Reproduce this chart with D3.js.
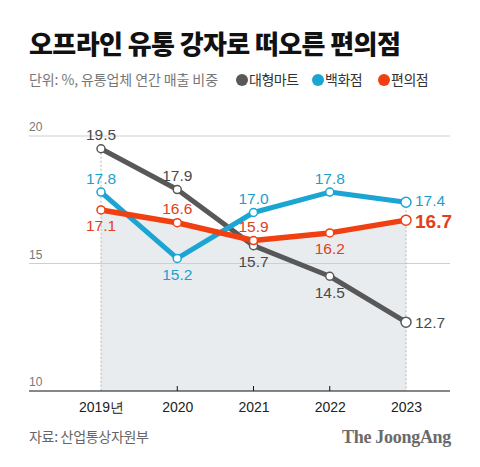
<!DOCTYPE html>
<html><head><meta charset="utf-8">
<script src="https://cdn.jsdelivr.net/npm/d3@7"></script>
<style>
html,body{margin:0;padding:0;background:#fff;}
svg{display:block;}
</style></head>
<body>
<svg id="c" width="480" height="467"></svg>
<script>
const years = ["2019년","2020","2021","2022","2023"];
const mart = [19.5,17.9,15.7,14.5,12.7];
const dept = [17.8,15.2,17.0,17.8,17.4];
const conv = [17.1,16.6,15.9,16.2,16.7];
const yTicks = [10,15,20];
const martPos = ["above","above","below","below","right"];
const deptPos = ["above","below","above","above","right"];
const convPos = ["below","above","above","below","right"];
const legendNames = ["대형마트","백화점","편의점"];

const svg = d3.select("#c");
const KR = "'Noto Sans CJK KR','Noto Sans',sans-serif";
const NUM = "'Liberation Sans',Arial,sans-serif";
const colors = {mart:"#585858", dept:"#1aa5d3", conv:"#f03f10"};
const labelColors = {mart:"#4a4a4a", dept:"#1b9fcb", conv:"#e2401b"};

const x = d3.scalePoint().domain(years).range([101,406]);
const y = d3.scaleLinear().domain([10,20]).range([391,136]);

// Title
svg.append("text").attr("x",29).attr("y",54).attr("font-family",KR).attr("font-weight",900)
  .attr("font-size",26).attr("letter-spacing",-0.6).attr("fill","#111").text("오프라인 유통 강자로 떠오른 편의점");
svg.append("text").attr("x",29).attr("y",85).attr("font-family",KR).attr("font-size",14)
  .attr("letter-spacing",-0.1).attr("fill","#777").text("단위: %, 유통업체 연간 매출 비중");
const legX = [242,318,384];
const legC = [colors.mart,colors.dept,colors.conv];
legendNames.forEach((n,i)=>{
  svg.append("circle").attr("cx",legX[i]).attr("cy",80).attr("r",6).attr("fill",legC[i]);
  svg.append("text").attr("x",legX[i]+7).attr("y",85).attr("font-family",KR).attr("font-size",14)
    .attr("letter-spacing",-0.5).attr("fill","#333").text(n);
});

// area under conv
const area = d3.area().x((d,i)=>x(years[i])).y0(y(10)).y1(d=>y(d));
svg.append("path").datum(conv).attr("d",area).attr("fill","#e9ecef");

// gridlines
yTicks.forEach(t=>{
  if(t!==10) svg.append("line").attr("x1",29).attr("x2",450).attr("y1",y(t)).attr("y2",y(t))
    .attr("stroke","#cfcfcf").attr("stroke-width",1);
  svg.append("text").attr("x",29).attr("y",y(t)-5).attr("font-family",NUM).attr("font-size",12)
    .attr("fill","#777").text(t);
});

// dotted verticals
[0,4].forEach(i=>{
  const top = Math.max(mart[i],dept[i],conv[i]);
  svg.append("line").attr("x1",x(years[i])).attr("x2",x(years[i]))
    .attr("y1",y(top)).attr("y2",y(10)).attr("stroke","#b5b5b5").attr("stroke-width",1)
    .attr("stroke-dasharray","2,2");
});

// x axis
const xAxis = d3.axisBottom(x).tickSize(0).tickPadding(8);
const ga = svg.append("g").attr("transform",`translate(0,${y(10)})`).call(xAxis);
ga.select(".domain").remove();
ga.selectAll("text").attr("font-family",NUM).attr("font-size",14).attr("fill","#222").attr("dy","0.9em");
svg.append("line").attr("x1",29).attr("x2",450).attr("y1",y(10)).attr("y2",y(10)).attr("stroke","#111").attr("stroke-width",1.2);
years.slice(1,4).forEach(yr=>{
  svg.append("line").attr("x1",x(yr)).attr("x2",x(yr)).attr("y1",y(10)-5).attr("y2",y(10)).attr("stroke","#111");
});

// lines
const line = d3.line().x((d,i)=>x(years[i])).y(d=>y(d));
const series = [
  {key:"mart",data:mart,pos:martPos,w:5},
  {key:"dept",data:dept,pos:deptPos,w:5},
  {key:"conv",data:conv,pos:convPos,w:5.5}
];
series.forEach(s=>{
  svg.append("path").datum(s.data).attr("d",line).attr("fill","none")
    .attr("stroke",colors[s.key]).attr("stroke-width",s.w).attr("stroke-linejoin","round");
});
series.forEach(s=>{
  s.data.forEach((v,i)=>{
    svg.append("circle").attr("cx",x(years[i])).attr("cy",y(v)).attr("r",i===4?5:4)
      .attr("fill","#fff").attr("stroke",colors[s.key]).attr("stroke-width",1.5);
  });
});
series.forEach(s=>{
  s.data.forEach((v,i)=>{
    const p = s.pos[i];
    const t = svg.append("text").attr("font-family",NUM).attr("fill",labelColors[s.key])
      .attr("dominant-baseline","central").text(v.toFixed(1));
    if(p==="right"){
      const big = s.key==="conv";
      const dy = s.key==="dept" ? -1.5 : (big ? 1 : 0);
      t.attr("x",x(years[i])+9).attr("y",y(v)+dy).attr("text-anchor","start")
       .attr("font-size",big?19:15.5).attr("font-weight",big?"bold":"normal");
    } else {
      t.attr("x",x(years[i])).attr("y",y(v)+(p==="above"?-14:16)).attr("text-anchor","middle")
       .attr("font-size",15.5);
    }
  });
});

// footer
svg.append("text").attr("x",29).attr("y",442).attr("font-family",KR).attr("font-size",14)
  .attr("letter-spacing",-0.3).attr("fill","#666").text("자료: 산업통상자원부");
svg.append("text").attr("x",451).attr("y",443).attr("text-anchor","end").attr("font-family","'Liberation Serif','DejaVu Serif',serif")
  .attr("font-weight","bold").attr("font-size",18).attr("letter-spacing",-0.3).attr("fill","#6a6a6a").text("The JoongAng");
</script>
</body></html>
